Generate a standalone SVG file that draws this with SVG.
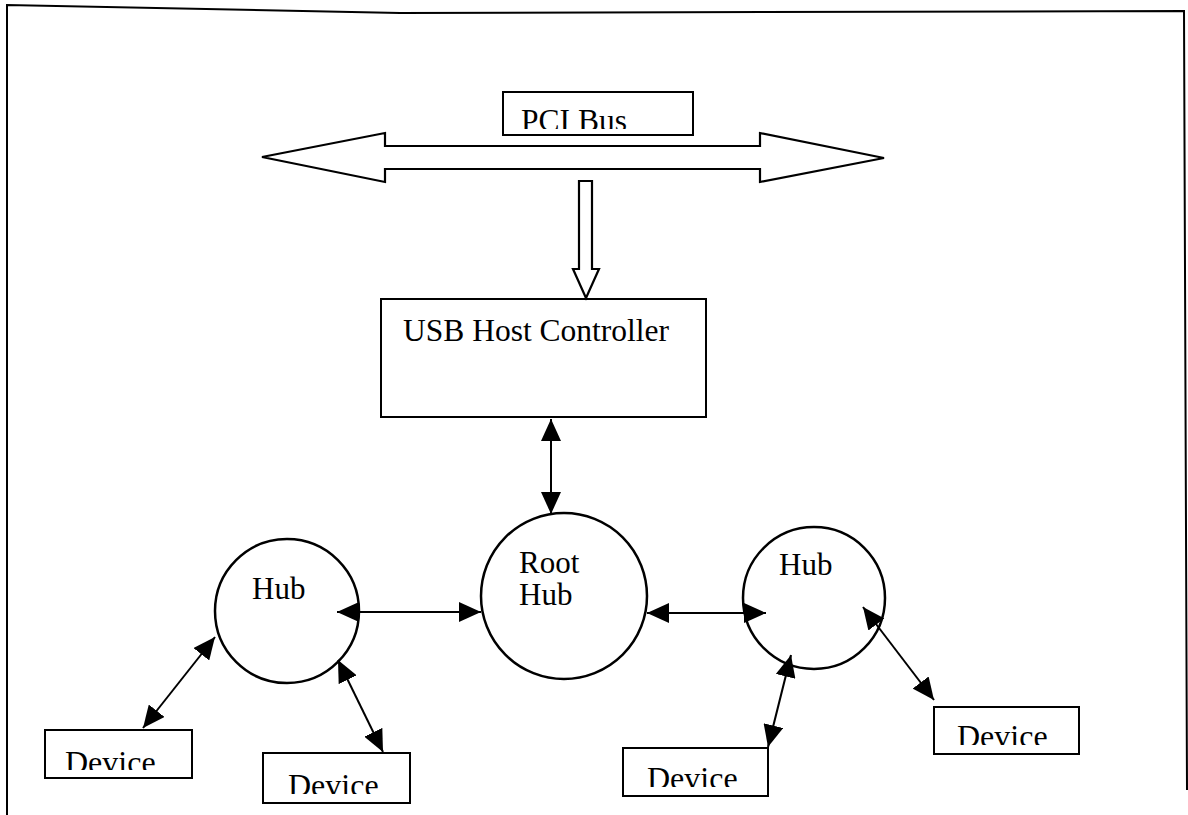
<svg xmlns="http://www.w3.org/2000/svg" width="1188" height="815" viewBox="0 0 1188 815">
  <style>
    .box { fill: #fff; stroke: #000; stroke-width: 2; }
    .hub { fill: #fff; stroke: #000; stroke-width: 2.5; }
    .label { font-family: "Liberation Serif", "Times New Roman", serif; font-size: 31.5px; fill: #000; }
    .small { font-family: "Liberation Serif", "Times New Roman", serif; font-size: 31px; fill: #000; }
    .dev { font-family: "Liberation Serif", "Times New Roman", serif; font-size: 32px; fill: #000; }
    .link { stroke: #000; stroke-width: 2; fill: none; marker-start: url(#head); marker-end: url(#head); }
    .frame { stroke: #000; stroke-width: 2; fill: none; }
    .hollow { fill: #fff; stroke: #000; stroke-width: 2.2; stroke-linejoin: miter; }
  </style>
  <defs>
    <marker id="head" viewBox="0 0 22 20" refX="22" refY="10" markerWidth="22" markerHeight="20" markerUnits="userSpaceOnUse" orient="auto-start-reverse">
      <path d="M0,0 L22,10 L0,20 Z" fill="#000"/>
    </marker>
    <!-- label text is cut off just above its baseline -->
    <clipPath id="clip-pci"><rect x="503" y="92" width="190" height="37"/></clipPath>
    <clipPath id="clip-d1"><rect x="45" y="730" width="147" height="40"/></clipPath>
    <clipPath id="clip-d2"><rect x="263" y="753" width="147" height="41"/></clipPath>
    <clipPath id="clip-d3"><rect x="623" y="748" width="145" height="39"/></clipPath>
    <clipPath id="clip-d4"><rect x="934" y="707" width="145" height="38"/></clipPath>
  </defs>

  <rect width="1188" height="815" fill="#fff"/>

  <!-- page frame -->
  <polyline class="frame" points="7,815 7,5 400,13 1184,11 1187,790"/>

  <!-- PCI bus label -->
  <g id="pci-bus">
    <rect class="box" x="503" y="92" width="190" height="43"/>
    <text class="label" x="521" y="131" clip-path="url(#clip-pci)">PCI Bus</text>
  </g>

  <!-- PCI bus (hollow double arrow) -->
  <g id="bus">
    <polygon class="hollow" points="262,157 385,133 385,146 760,146 760,133 884,158 760,182 760,169 385,169 385,182"/>
  </g>

  <!-- USB host controller -->
  <g id="usb-host">
    <rect class="box" x="381" y="299" width="325" height="118"/>
    <text class="label" x="403" y="341">USB Host Controller</text>
  </g>

  <!-- Root hub -->
  <g id="root-hub">
    <circle class="hub" cx="564" cy="596" r="83"/>
    <text class="small" x="519" y="573">Root</text>
    <text class="small" x="519" y="605">Hub</text>
  </g>

  <!-- Hubs -->
  <g id="hub-left">
    <circle class="hub" cx="287" cy="611" r="72"/>
    <text class="small" x="252" y="599">Hub</text>
  </g>
  <g id="hub-right">
    <circle class="hub" cx="814" cy="598" r="71"/>
    <text class="small" x="779" y="575">Hub</text>
  </g>

  <!-- Devices -->
  <g id="device-1">
    <rect class="box" x="45" y="730" width="147" height="48"/>
    <text class="dev" x="65" y="773" clip-path="url(#clip-d1)">Device</text>
  </g>
  <g id="device-2">
    <rect class="box" x="263" y="753" width="147" height="50"/>
    <text class="dev" x="288" y="796" clip-path="url(#clip-d2)">Device</text>
  </g>
  <g id="device-3">
    <rect class="box" x="623" y="748" width="145" height="48"/>
    <text class="dev" x="647" y="789" clip-path="url(#clip-d3)">Device</text>
  </g>
  <g id="device-4">
    <rect class="box" x="934" y="707" width="145" height="47"/>
    <text class="dev" x="957" y="747" clip-path="url(#clip-d4)">Device</text>
  </g>

  <!-- connectors -->
  <g id="connectors">
    <!-- bus to host controller (hollow arrow) -->
    <polygon class="hollow" points="579,181 592,181 592,269 599,269 586,298 573,269 579,269"/>
    <line class="link" x1="551" y1="419" x2="551" y2="514"/>
    <line class="link" x1="337" y1="612" x2="481" y2="612"/>
    <line class="link" x1="647" y1="613" x2="766" y2="613"/>
    <line class="link" x1="215" y1="637" x2="143" y2="728"/>
    <line class="link" x1="338" y1="660" x2="383" y2="752"/>
    <line class="link" x1="791" y1="655" x2="768" y2="747"/>
    <line class="link" x1="863" y1="607" x2="934" y2="700"/>
  </g>
</svg>
